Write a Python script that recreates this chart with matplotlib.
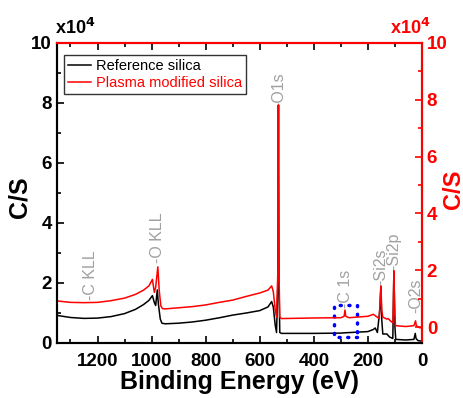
import numpy as np
import matplotlib.pyplot as plt
from matplotlib.patches import Rectangle
from matplotlib.ticker import MultipleLocator

plt.rcParams['font.family'] = ['Liberation Sans', 'DejaVu Sans']

# Survey spectra, intensities in units of 1e4 C/S
be_ref = [1350, 1300, 1250, 1200, 1150, 1100, 1060, 1030, 1010, 997, 990,
          985, 979, 975, 968, 962, 950, 900, 850, 800, 750, 700, 650, 600,
          570, 556, 550, 543, 538, 533, 531, 529, 526, 520, 400, 300, 285,
          200, 180, 173, 165, 155, 152, 149, 145, 130, 120, 108, 104, 100,
          97, 60, 30, 25, 22, 15, 0]
cs_ref = [0.92, 0.85, 0.82, 0.83, 0.88, 0.98, 1.12, 1.28, 1.42, 1.58, 1.35,
          1.25, 1.77, 1.30, 0.80, 0.66, 0.64, 0.66, 0.70, 0.76, 0.84, 0.93,
          1.00, 1.08, 1.20, 1.38, 1.20, 0.60, 0.35, 2.00, 7.93, 2.00, 0.35,
          0.32, 0.32, 0.33, 0.34, 0.38, 0.45, 0.50, 0.35, 1.20, 1.85, 0.80,
          0.30, 0.30, 0.20, 0.15, 2.40, 0.50, 0.12, 0.10, 0.12, 0.32, 0.15,
          0.08, 0.06]

be_plasma = [1350, 1300, 1250, 1200, 1150, 1100, 1060, 1030, 1010, 997, 990,
             985, 977, 972, 966, 960, 950, 900, 850, 800, 750, 700, 650, 600,
             570, 556, 550, 543, 538, 533, 531, 529, 526, 520, 400, 300, 288,
             285, 282, 270, 200, 180, 170, 158, 155, 152, 149, 145, 130, 125,
             115, 107, 104, 101, 98, 60, 30, 24, 21, 10, 0]
cs_plasma = [0.92, 0.87, 0.86, 0.87, 0.93, 1.02, 1.15, 1.30, 1.45, 1.68, 1.22,
             1.40, 2.12, 1.30, 0.75, 0.65, 0.64, 0.68, 0.72, 0.78, 0.87, 0.95,
             1.08, 1.20, 1.30, 1.45, 1.25, 0.62, 0.35, 2.00, 7.82, 2.00, 0.35,
             0.30, 0.32, 0.33, 0.38, 0.60, 0.38, 0.33, 0.38, 0.45, 0.38, 0.30,
             1.00, 1.45, 0.60, 0.35, 0.28, 0.30, 0.20, 0.15, 1.98, 0.50, 0.05,
             0.02, 0.05, 0.22, 0.05, -0.02, -0.03]

peak_names = ['-C KLL', '-O KLL', '-O1s', '-C 1s', '-Si2s', '-Si2p', '-O2s']
peak_be = [1225, 979, 531, 282, 152, 104, 23]
label_y = [1.43, 2.67, 7.87, 1.17, 1.93, 2.43, 1.0]

fig = plt.figure(figsize=(4.64, 3.98), dpi=100)
ax = fig.add_axes([0.1228, 0.1382, 0.7867, 0.7538])
ax2 = ax.twinx()

l1, = ax.plot(be_ref, cs_ref, color='black', lw=1.1, label='Reference silica')
l2, = ax2.plot(be_plasma, cs_plasma, color='red', lw=1.1,
               label='Plasma modified silica')

ax.set_xlim(1350, 0)
ax.set_ylim(0, 10)
ax2.set_ylim(-0.56, 10)

ax.xaxis.set_major_locator(MultipleLocator(200))
ax.xaxis.set_minor_locator(MultipleLocator(100))
ax.yaxis.set_major_locator(MultipleLocator(2))
ax.yaxis.set_minor_locator(MultipleLocator(1))
ax2.yaxis.set_major_locator(MultipleLocator(2))
ax2.yaxis.set_minor_locator(MultipleLocator(1))

for a in (ax, ax2):
    for s in a.spines.values():
        s.set_linewidth(1.5)
ax2.spines['right'].set_color('red')
ax2.spines['top'].set_color('red')
ax2.spines['left'].set_color('black')
ax2.spines['bottom'].set_color('black')

ax.tick_params(axis='both', which='both', direction='in', width=1.2,
               labelsize=13.5, top=True)
ax.tick_params(axis='x', pad=7)
ax.tick_params(which='major', length=5)
ax.tick_params(which='minor', length=3)
ax.tick_params(axis='y', which='both', right=False)
for t in ax.xaxis.get_major_ticks() + ax.xaxis.get_minor_ticks():
    t.tick2line.set_color('red')
ax2.tick_params(axis='y', which='both', direction='in', colors='red',
                width=1.2, labelsize=13.5)
ax2.tick_params(which='major', length=5)
ax2.tick_params(which='minor', length=3)

for lbl in ax.get_xticklabels() + ax.get_yticklabels() + ax2.get_yticklabels():
    lbl.set_fontweight('bold')

ax.set_xlabel('Binding Energy (eV)', fontsize=18, fontweight='bold',
              labelpad=0)
fig.text(0.0431, 0.505, 'C/S', rotation=90, ha='center', va='center',
         fontsize=18, fontweight='bold', color='black')
fig.text(0.9765, 0.525, 'C/S', rotation=90, ha='center', va='center',
         fontsize=17, fontweight='bold', color='red')

fig.text(0.118, 0.915, r'x10$^\mathbf{4}$', fontsize=13, fontweight='bold',
         color='black')
fig.text(0.84, 0.915, r'x10$^\mathbf{4}$', fontsize=13, fontweight='bold',
         color='red')

for name, be, y in zip(peak_names, peak_be, label_y):
    ax.text(be, y, name, rotation=90, ha='center', va='bottom',
            color='#a0a0a0', fontsize=11.5)

ax.add_patch(Rectangle((240, 0.2), 85, 1.07, fill=False, edgecolor='blue',
                       lw=2.5, linestyle=(0, (0.3, 2.2)), capstyle='round',
                       zorder=5))

leg = ax.legend(handles=[l1, l2], loc='upper left',
                bbox_to_anchor=(0.02, 0.96), borderaxespad=0, fontsize=10.5,
                frameon=True, fancybox=False, handlelength=1.6,
                handletextpad=0.35, borderpad=0.25, labelspacing=0.25)
leg.get_frame().set_edgecolor('black')
leg.get_frame().set_linewidth(1.0)
leg.get_texts()[1].set_color('red')

fig.savefig('out.png', dpi=100)
